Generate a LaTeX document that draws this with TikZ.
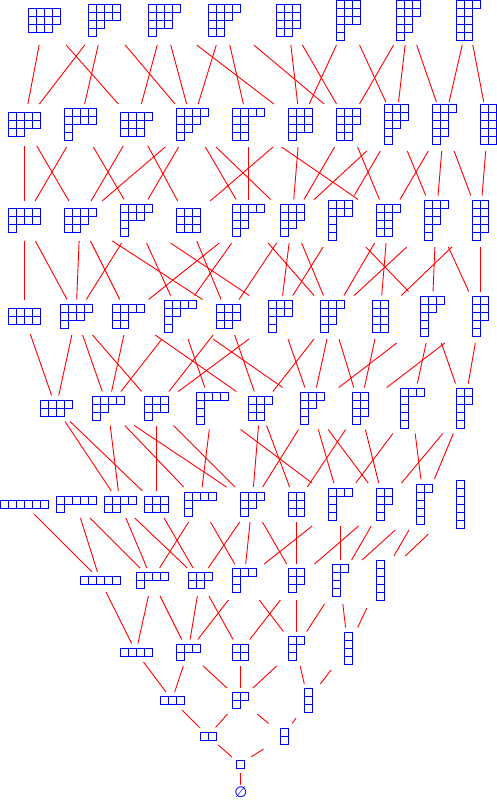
\documentclass[tikz,border=0pt]{standalone}
\usepackage{fontspec}
\newfontfamily\djv{DejaVu Sans}
\usetikzlibrary{calc}
\definecolor{yblue}{RGB}{0,0,255}
\definecolor{ered}{RGB}{255,0,0}
\tikzset{
  cell/.style={draw=yblue, line width=1pt},
  edge/.style={draw=ered, line width=0.9pt},
  ydnode/.style={inner sep=0pt, minimum size=2pt}
}
\newcommand\setrank[4]{\def\rcT{#1}\def\rcB{#2}\def\rfT{#3}\def\rfB{#4}}
\newcommand\yd[4]{%
  \gdef\ydn{0}%
  \foreach \L [count=\i] in {#4} {\ifnum\i=1 \xdef\ydl{\L}\fi \xdef\ydn{\i}}%
  \node[ydnode] (#1) at (#2,#3) {};
  \pgfmathsetmacro\ydx{#2-4*\ydl}%
  \pgfmathsetmacro\ydy{#3-4*\ydn}%
  \foreach \L [count=\i from 0] in {#4} {\foreach \j in {1,...,\L} {\draw[cell] ({\ydx+8*(\j-1)},{\ydy+8*\i}) rectangle ++(8,8);}}
  \pgfmathsetmacro\ydgt{max(4*\ydn+\rcT,\rfT)}%
  \pgfmathsetmacro\ydgb{max(4*\ydn+\rcB,\rfB)}%
  \expandafter\xdef\csname gt@#1\endcsname{\ydgt}%
  \expandafter\xdef\csname gb@#1\endcsname{\ydgb}%
  \expandafter\xdef\csname cy@#1\endcsname{#3}%
}
\newcommand\ledge[2]{%
  \pgfmathsetmacro\edgta{\csname gt@#1\endcsname/(\csname cy@#1\endcsname-\csname cy@#2\endcsname)}%
  \pgfmathsetmacro\edgtb{\csname gb@#2\endcsname/(\csname cy@#1\endcsname-\csname cy@#2\endcsname)}%
  \draw[edge] ($(#1)!\edgta!(#2)$) -- ($(#2)!\edgtb!(#1)$);
}
\begin{document}
\begin{tikzpicture}[x=1pt,y=-1pt]
\useasboundingbox (0,0) rectangle (497,801);
% rank 0
\node[text=yblue, inner sep=0pt, font=\djv\fontsize{15}{15}\selectfont] (p0) at (241,792.5) {∅};
\expandafter\xdef\csname gt@p0\endcsname{7}
\expandafter\xdef\csname cy@p0\endcsname{792}
% rank 1
\setrank{3}{5}{0}{0}
\yd{p1}{240}{764}{1}
% rank 2
\setrank{4.5}{5}{0}{0}
\yd{p2}{208}{736}{2}
\yd{p11}{284}{736}{1,1}
% rank 3
\setrank{4}{6}{0}{0}
\yd{p3}{172}{700}{3}
\yd{p21}{240}{700}{2,1}
\yd{p111}{308}{700}{1,1,1}
% rank 4
\setrank{4.5}{6}{0}{0}
\yd{p4}{136}{652}{4}
\yd{p31}{188}{652}{3,1}
\yd{p22}{240}{652}{2,2}
\yd{p211}{296}{648}{2,1,1}
\yd{p1111}{348}{648}{1,1,1,1}
% rank 5
\setrank{4}{8}{0}{0}
\yd{p5}{100}{580}{5}
\yd{p41}{152}{580}{4,1}
\yd{p32}{200}{580}{3,2}
\yd{p311}{244}{580}{3,1,1}
\yd{p221}{296}{580}{2,2,1}
\yd{p2111}{340}{580}{2,1,1,1}
\yd{p11111}{380}{580}{1,1,1,1,1}
% rank 6
\setrank{5}{6}{0}{0}
\yd{p6}{24}{504}{6}
\yd{p51}{76}{504}{5,1}
\yd{p42}{120}{504}{4,2}
\yd{p33}{156}{504}{3,3}
\yd{p411}{200}{504}{4,1,1}
\yd{p321}{252}{504}{3,2,1}
\yd{p222}{296}{504}{2,2,2}
\yd{p3111}{340}{504}{3,1,1,1}
\yd{p2211}{384}{504}{2,2,1,1}
\yd{p21111}{424}{504}{2,1,1,1,1}
\yd{p111111}{460}{504}{1,1,1,1,1,1}
% rank 7
\setrank{4.5}{5.5}{0}{0}
\yd{p43}{56}{408}{4,3}
\yd{p421}{108}{408}{4,2,1}
\yd{p331}{156}{408}{3,3,1}
\yd{p4111}{212}{408}{4,1,1,1}
\yd{p322}{260}{408}{3,2,2}
\yd{p3211}{312}{408}{3,2,1,1}
\yd{p2221}{360}{408}{2,2,2,1}
\yd{p31111}{412}{408}{3,1,1,1,1}
\yd{p22111}{464}{408}{2,2,1,1,1}
% rank 8
\setrank{4.5}{7}{16}{18}
\yd{p44}{24}{316}{4,4}
\yd{p431}{76}{316}{4,3,1}
\yd{p422}{128}{316}{4,2,2}
\yd{p4211}{180}{316}{4,2,1,1}
\yd{p332}{228}{316}{3,3,2}
\yd{p3311}{280}{316}{3,3,1,1}
\yd{p3221}{332}{316}{3,2,2,1}
\yd{p2222}{380}{316}{2,2,2,2}
\yd{p32111}{432}{316}{3,2,1,1,1}
\yd{p22211}{480}{316}{2,2,2,1,1}
% rank 9
\setrank{4.5}{7}{19}{21}
\yd{p441}{24}{220}{4,4,1}
\yd{p432}{80}{220}{4,3,2}
\yd{p4311}{136}{220}{4,3,1,1}
\yd{p333}{188}{220}{3,3,3}
\yd{p4221}{248}{220}{4,2,2,1}
\yd{p3321}{292}{220}{3,3,2,1}
\yd{p33111}{340}{220}{3,3,1,1,1}
\yd{p3222}{388}{220}{3,2,2,2}
\yd{p32211}{436}{220}{3,2,2,1,1}
\yd{p22221}{480}{220}{2,2,2,2,1}
% rank 10
\setrank{2}{7}{20}{22}
\yd{p442}{24}{124}{4,4,2}
\yd{p4411}{80}{124}{4,4,1,1}
\yd{p433}{136}{124}{4,3,3}
\yd{p4321}{192}{124}{4,3,2,1}
\yd{p4222}{248}{124}{4,2,2,2}
\yd{p3331}{300}{124}{3,3,3,1}
\yd{p3322}{348}{124}{3,3,2,2}
\yd{p33211}{396}{124}{3,3,2,1,1}
\yd{p32221}{444}{124}{3,2,2,2,1}
\yd{p22222}{488}{124}{2,2,2,2,2}
% rank 11
\setrank{0}{5}{0}{25}
\yd{p443}{44}{20}{4,4,3}
\yd{p4421}{104}{20}{4,4,2,1}
\yd{p4331}{164}{20}{4,3,3,1}
\yd{p4322}{224}{20}{4,3,2,2}
\yd{p3332}{288}{20}{3,3,3,2}
\yd{p33311}{348}{20}{3,3,3,1,1}
\yd{p33221}{408}{20}{3,3,2,2,1}
\yd{p32222}{468}{20}{3,2,2,2,2}
% edges
\foreach \a/\b in {p0/p1, p1/p2, p1/p11,
  p2/p3, p2/p21, p11/p21, p11/p111,
  p3/p4, p3/p31, p21/p31, p21/p22, p21/p211, p111/p211, p111/p1111,
  p4/p5, p4/p41, p31/p41, p31/p32, p31/p311, p22/p32, p22/p221, p211/p311, p211/p221, p211/p2111, p1111/p2111, p1111/p11111,
  p5/p6, p5/p51, p41/p51, p41/p42, p41/p411, p32/p42, p32/p33, p32/p321, p311/p411, p311/p321, p311/p3111, p221/p321, p221/p222, p221/p2211, p2111/p3111, p2111/p2211, p2111/p21111, p11111/p21111, p11111/p111111,
  p42/p43, p42/p421, p33/p43, p33/p331, p411/p421, p411/p4111, p321/p421, p321/p331, p321/p322, p321/p3211, p222/p322, p222/p2221, p3111/p4111, p3111/p3211, p3111/p31111, p2211/p3211, p2211/p2221, p2211/p22111, p21111/p31111, p21111/p22111,
  p43/p44, p43/p431, p421/p431, p421/p422, p421/p4211, p331/p431, p331/p332, p331/p3311, p4111/p4211, p322/p422, p322/p332, p322/p3221, p3211/p4211, p3211/p3311, p3211/p3221, p3211/p32111, p2221/p3221, p2221/p2222, p2221/p22211, p31111/p32111, p22111/p32111, p22111/p22211,
  p44/p441, p431/p441, p431/p432, p431/p4311, p422/p432, p422/p4221, p4211/p4311, p4211/p4221, p332/p432, p332/p333, p332/p3321, p3311/p4311, p3311/p3321, p3311/p33111, p3221/p4221, p3221/p3321, p3221/p3222, p3221/p32211, p2222/p3222, p2222/p22221, p32111/p33111, p32111/p32211, p22211/p32211, p22211/p22221,
  p441/p442, p441/p4411, p432/p442, p432/p433, p432/p4321, p4311/p4411, p4311/p4321, p333/p433, p333/p3331, p4221/p4321, p4221/p4222, p3321/p4321, p3321/p3331, p3321/p3322, p3321/p33211, p33111/p33211, p3222/p4222, p3222/p3322, p3222/p32221, p32211/p33211, p32211/p32221, p22221/p32221, p22221/p22222,
  p442/p443, p442/p4421, p4411/p4421, p433/p443, p433/p4331, p4321/p4421, p4321/p4331, p4321/p4322, p4222/p4322, p3331/p4331, p3331/p3332, p3331/p33311, p3322/p4322, p3322/p3332, p3322/p33221, p33211/p33311, p33211/p33221, p32221/p33221, p32221/p32222, p22222/p32222}
  {\ledge{\a}{\b}}
\end{tikzpicture}
\end{document}
